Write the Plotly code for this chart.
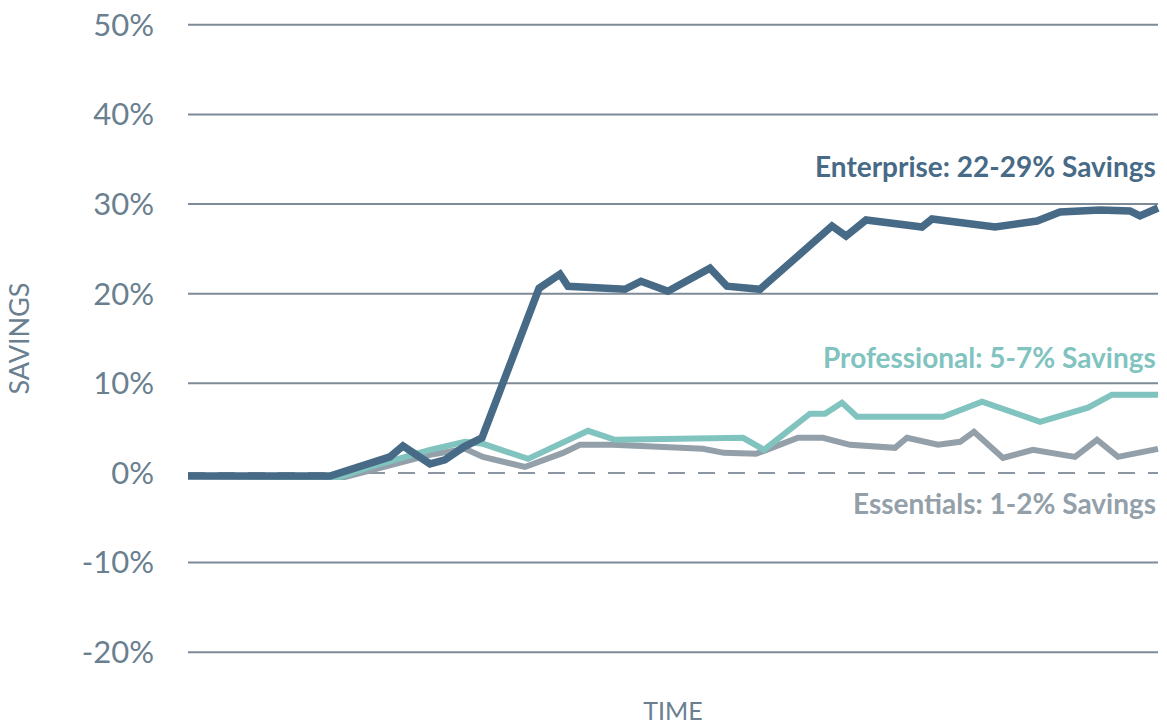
import plotly.graph_objects as go

# ---- data (time in % of period, savings in %) ----
ent_t = [0, 14.64, 20.82, 22.16, 24.95, 26.49, 28.45, 30.31, 36.19, 38.35, 39.18, 45.05, 46.70,
         49.48, 53.81, 55.57, 58.97, 66.39, 67.84, 69.90, 75.67, 76.70, 83.20, 87.53, 89.90,
         94.02, 97.11, 98.14, 100]
ent_v = [-0.34, -0.34, 1.79, 3.02, 1.01, 1.46, 2.91, 3.92, 20.60, 22.17, 20.83, 20.49, 21.39,
         20.27, 22.84, 20.83, 20.49, 27.55, 26.43, 28.22, 27.44, 28.33, 27.44, 28.11, 29.12,
         29.34, 29.23, 28.67, 29.56]

pro_t = [0, 14.64, 15.67, 18.76, 24.95, 28.56, 30.41, 35.05, 41.24, 44.02, 57.22, 59.38, 64.12,
         65.67, 67.42, 68.97, 77.84, 81.86, 87.84, 92.78, 95.26, 100]
pro_v = [-0.34, -0.34, -0.45, 0.67, 2.58, 3.47, 3.25, 1.57, 4.70, 3.70, 3.92, 2.58, 6.61,
         6.61, 7.84, 6.27, 6.27, 7.95, 5.71, 7.28, 8.73, 8.73]

ess_t = [0, 14.64, 16.19, 24.95, 28.56, 30.41, 34.74, 38.66, 40.41, 43.81, 53.09, 55.26, 58.56,
         59.38, 62.89, 65.46, 68.25, 72.89, 74.12, 77.32, 79.59, 81.03, 84.02, 87.11, 91.44,
         93.71, 95.88, 100]
ess_v = [-0.34, -0.34, -0.45, 2.02, 2.69, 1.79, 0.67, 2.24, 3.14, 3.14, 2.69, 2.24, 2.13,
         2.46, 3.92, 3.92, 3.14, 2.80, 3.92, 3.14, 3.47, 4.59, 1.68, 2.58, 1.79,
         3.70, 1.79, 2.69]

series_labels = ["Enterprise: 22-29% Savings", "Professional: 5-7% Savings", "Essentials: 1-2% Savings"]
label_y = [34.2, 12.95, -3.4]

y_ticks = [-20, -10, 0, 10, 20, 30, 40, 50]
y_tick_text = ["-20%", "-10%", "0%", "10%", "20%", "30%", "40%", "50%"]

C_ENT = "#476a87"
C_PRO = "#80c3bf"
C_ESS = "#93a0aa"
C_GRID = "#7f8a97"
C_TEXT = "#6a7f8f"

fig = go.Figure()
fig.add_trace(go.Scatter(x=ess_t, y=ess_v, mode="lines", line=dict(color=C_ESS, width=6), hoverinfo="skip"))
fig.add_trace(go.Scatter(x=pro_t, y=pro_v, mode="lines", line=dict(color=C_PRO, width=6), hoverinfo="skip"))
fig.add_trace(go.Scatter(x=ent_t, y=ent_v, mode="lines", line=dict(color=C_ENT, width=7.5), hoverinfo="skip"))

# gridlines
for v in y_ticks:
    if v == 0:
        fig.add_shape(type="line", xref="x", yref="y", x0=0, x1=100, y0=0, y1=0,
                      line=dict(color="#8c96a2", width=2, dash="17px,13px"), layer="below")
    else:
        fig.add_shape(type="line", xref="x", yref="y", x0=0, x1=100, y0=v, y1=v,
                      line=dict(color=C_GRID, width=2), layer="below")

for txt, yy, col in zip(series_labels, label_y, [C_ENT, C_PRO, C_ESS]):
    fig.add_annotation(x=100, y=yy, xref="x", yref="y", text=txt, showarrow=False,
                       xanchor="right", yanchor="middle",
                       font=dict(family="Lato", size=28, color=col, weight="bold"))

fig.update_layout(
    width=1167, height=726,
    margin=dict(l=185, r=6, t=23, b=72),
    paper_bgcolor="white", plot_bgcolor="white",
    showlegend=False,
    xaxis=dict(range=[-0.31, 100.31], showgrid=False, zeroline=False, showticklabels=False,
               showline=False, ticks="",
               title=dict(text="TIME", standoff=48,
                          font=dict(family="Lato", size=25, color=C_TEXT))),
    yaxis=dict(range=[-20.2, 50.2], showgrid=False, zeroline=False, showline=False, ticks="",
               tickvals=y_ticks, ticktext=y_tick_text, ticklabelstandoff=30,
               tickfont=dict(family="Lato", size=31, color=C_TEXT),
               title=dict(text="SAVINGS", standoff=44,
                          font=dict(family="Lato", size=27, color=C_TEXT))),
)

fig.write_html("out.html", config={"displayModeBar": False},
               post_script="document.body.style.margin='0px';document.body.style.overflow='hidden';")
